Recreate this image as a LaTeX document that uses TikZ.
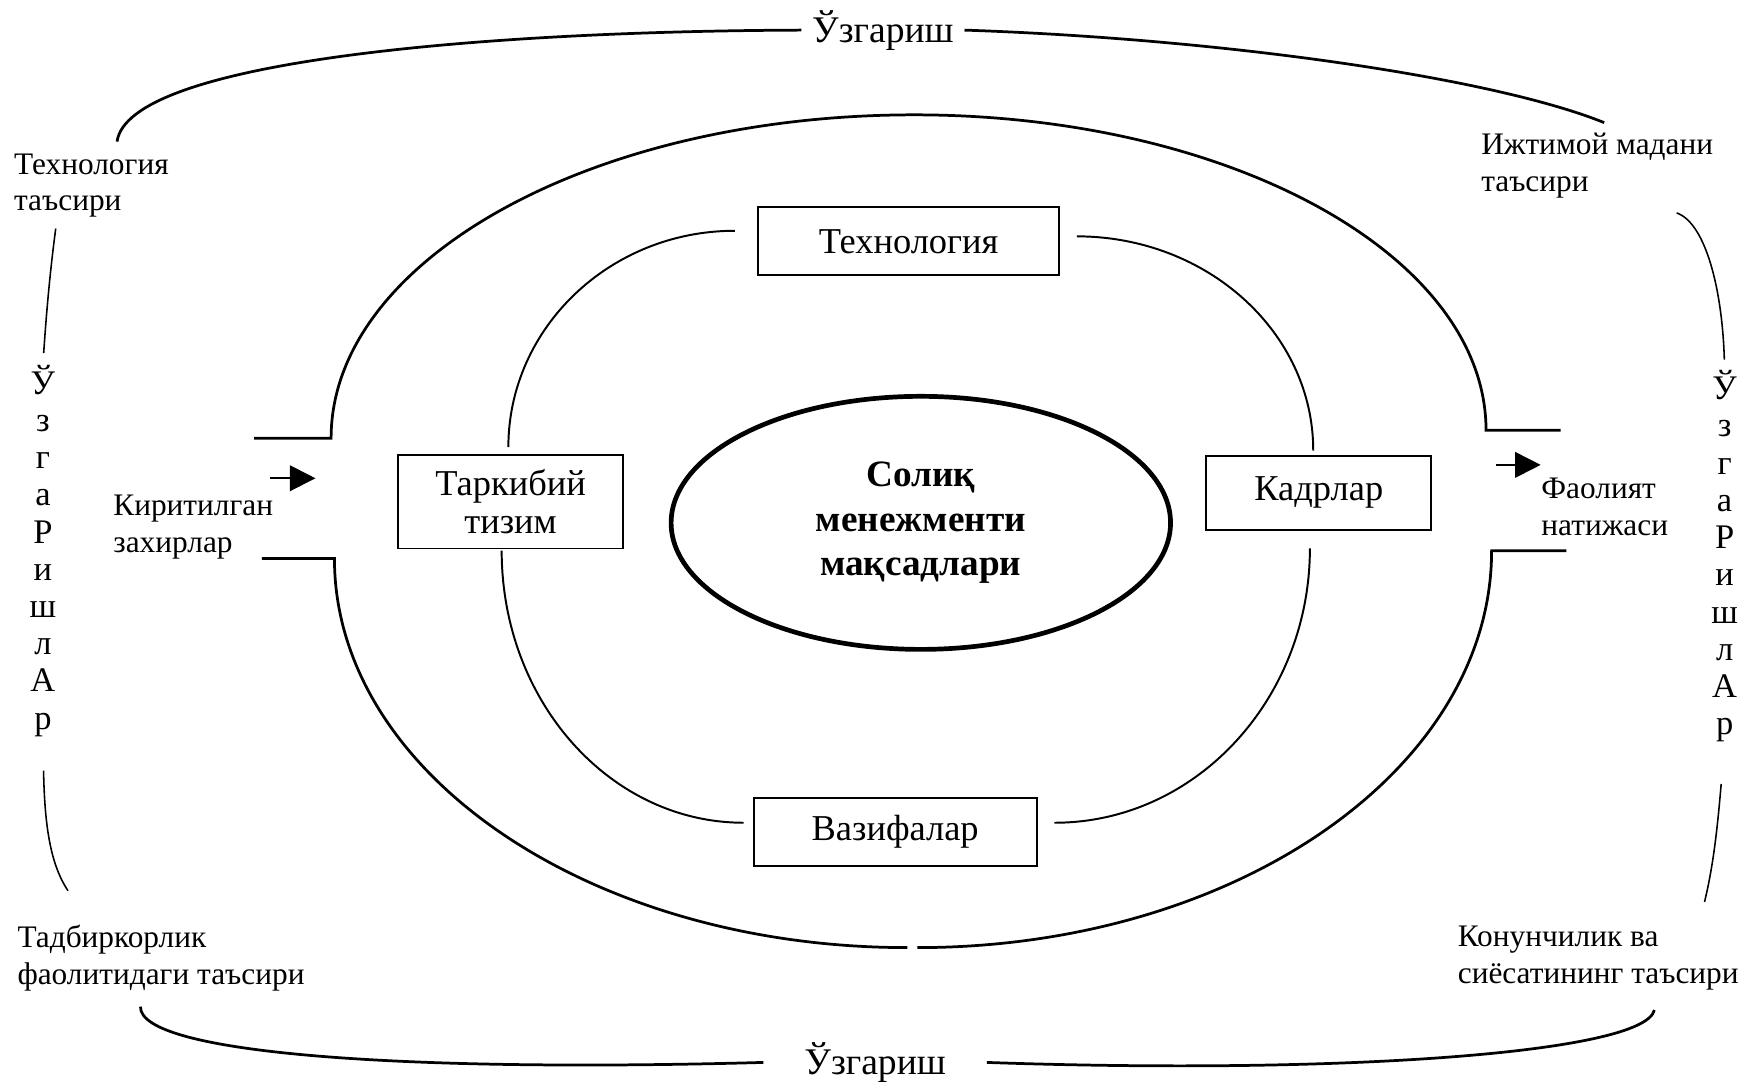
\documentclass[tikz,border=0pt]{standalone}
\usepackage{fontspec}
\setmainfont{Liberation Serif}
\usetikzlibrary{positioning, arrows.meta, shapes.geometric}

\begin{document}
\begin{tikzpicture}
    [
        box_node/.style={rectangle, draw=black, line width=0.5pt, font=\fontsize{9.3}{9.7}\selectfont, align=center},
        side_node/.style={font=\fontsize{8}{9.4}\selectfont, align=left, anchor=west, inner sep=0pt},
        change_node/.style={font=\fontsize{9.6}{11}\selectfont, inner ysep=0pt},
        letter_node/.style={font=\fontsize{8.8}{9.5}\selectfont, align=center, inner sep=0pt},
        goal_node/.style={ellipse, draw=black, line width=1.2pt, minimum width=4.48cm, minimum height=2.27cm, inner sep=0pt, font=\fontsize{9.5}{11.4}\selectfont\bfseries, align=center},
        ring_line/.style={line width=0.7pt, color=black},
        inner_line/.style={line width=0.5pt, color=black},
        thin_line/.style={line width=0.4pt, color=black},
        in_arrow/.style={-{Triangle[length=0.23cm, width=0.23cm]}, line width=0.5pt},
    ]
        \useasboundingbox (0,0) rectangle (15.68,-9.72);
        \node[change_node, inner xsep=0.09cm] (top_change) at (7.92,-0.27) {Ўзгариш};
        \node[change_node, inner xsep=0.36cm] (bot_change) at (7.85,-9.53) {Ўзгариш};
        \node[side_node] (tech_eff) at (0.12,-1.665) {Технология\\таъсири};
        \node[side_node] (soc_eff) at (13.28,-1.485) {Ижтимой мадани\\таъсири};
        \node[side_node] (biz_eff) at (0.15,-8.595) {Тадбиркорлик\\фаолитидаги таъсири};
        \node[side_node] (law_eff) at (13.07,-8.595) {Конунчилик ва\\сиёсатининг таъсири};
        \node[letter_node] (left_changes) at (0.385,-4.94) {Ў\\з\\г\\а\\Р\\и\\ш\\л\\А\\р};
        \node[letter_node] (right_changes) at (15.47,-4.99) {Ў\\з\\г\\а\\Р\\и\\ш\\л\\А\\р};
        \node[side_node] (inputs) at (1.01,-4.725) {Киритилган\\захирлар};
        \node[side_node] (results) at (13.82,-4.545) {Фаолият\\натижаси};
        \node[goal_node] (goals) at (8.26,-4.69) {Солиқ\\менежменти\\мақсадлари};
        \node[box_node, minimum width=2.70cm, minimum height=0.61cm] (tech) at (8.15,-2.165) {Технология};
        \node[box_node, minimum width=2.02cm, minimum height=0.84cm] (struct) at (4.58,-4.50) {Таркибий\\тизим};
        \node[box_node, minimum width=2.02cm, minimum height=0.66cm] (staff) at (11.83,-4.42) {Кадрлар};
        \node[box_node, minimum width=2.54cm, minimum height=0.61cm] (tasks) at (8.03,-7.465) {Вазифалар};
        \coordinate (in_top) at (2.28,-3.93);
        \coordinate (in_bot) at (2.35,-5.01);
        \coordinate (out_top) at (14.00,-3.86);
        \coordinate (out_bot) at (14.05,-4.94);
        \coordinate (in_tail) at (2.42,-4.29);
        \coordinate (in_tip) at (2.83,-4.29);
        \coordinate (out_tail) at (13.42,-4.17);
        \coordinate (out_tip) at (13.82,-4.17);
        \coordinate (tl_end) at (1.05,-1.27);
        \coordinate (tr_end) at (14.39,-1.10);
        \coordinate (bl_end) at (1.26,-9.03);
        \coordinate (br_end) at (14.84,-9.06);
        \draw[ring_line] (tl_end) .. controls (1.15,-0.55) and (4.3,-0.28) .. (top_change.west) ;
        \draw[ring_line] (top_change.east) .. controls (11.0,-0.35) and (13.4,-0.7) .. (tr_end) ;
        \draw[ring_line] (bl_end) .. controls (1.25,-9.45) and (3.6,-9.62) .. (bot_change.west) ;
        \draw[ring_line] (br_end) .. controls (14.75,-9.45) and (12.0,-9.64) .. (bot_change.east) ;
        \draw[thin_line, shorten >=0.1cm] (0.50,-2.05) .. controls (0.44,-2.5) and (0.41,-2.9) .. (left_changes.north) ;
        \draw[thin_line, shorten <=0.3cm] (left_changes.south) .. controls (0.40,-7.4) and (0.45,-7.75) .. (0.61,-7.99) ;
        \draw[thin_line, shorten >=0.09cm] (15.04,-1.91) .. controls (15.3,-2.0) and (15.45,-2.6) .. (right_changes.north) ;
        \draw[thin_line, shorten <=0.37cm] (right_changes.south) .. controls (15.40,-7.5) and (15.36,-7.8) .. (15.29,-8.09) ;
        \draw[ring_line] (in_top) -- (2.97,-3.93) .. controls (2.97,-2.33) and (5.31,-1.03) .. (8.20,-1.03) .. controls (11.03,-1.03) and (13.33,-2.29) .. (13.33,-3.86) -- (out_top) ;
        \draw[ring_line] (in_bot) -- (3.00,-5.01) .. controls (3.00,-6.94) and (5.30,-8.50) .. (8.14,-8.50) ;
        \draw[ring_line] (8.23,-8.50) .. controls (11.07,-8.50) and (13.38,-6.91) .. (13.38,-4.94) -- (out_bot) ;
        \draw[inner_line] ([xshift=-0.02cm, yshift=0.06cm]struct.north) .. controls +(0,1.07) and +(-1.12,0) .. ([xshift=-0.20cm, yshift=0.095cm]tech.west) ;
        \draw[inner_line] ([xshift=0.15cm, yshift=0.045cm]tech.east) .. controls +(1.17,0) and +(0,1.06) .. ([xshift=-0.05cm, yshift=0.04cm]staff.north) ;
        \draw[inner_line] ([xshift=-0.08cm, yshift=-0.01cm]struct.south) .. controls +(0,-1.35) and +(-1.2,0) .. ([xshift=-0.08cm, yshift=0.085cm]tasks.west) ;
        \draw[inner_line] ([xshift=0.15cm, yshift=0.085cm]tasks.east) .. controls +(1.27,0) and +(0,-1.35) .. ([xshift=-0.08cm, yshift=-0.16cm]staff.south) ;
        \draw[in_arrow] (in_tail) -- (in_tip) ;
        \draw[in_arrow] (out_tail) -- (out_tip) ;
\end{tikzpicture}
\end{document}
